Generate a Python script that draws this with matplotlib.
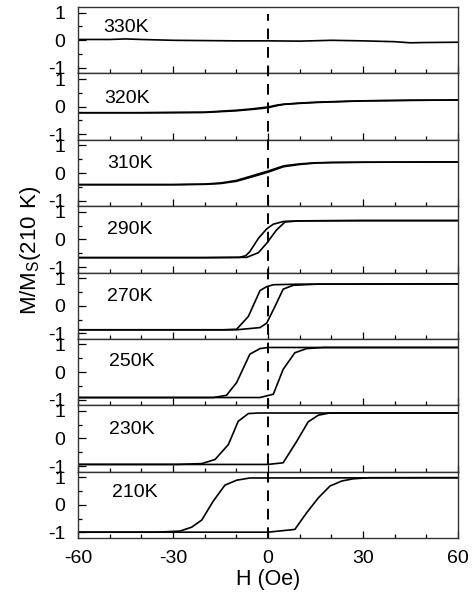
import matplotlib
matplotlib.use("Agg")
import matplotlib.pyplot as plt
from matplotlib.lines import Line2D
from matplotlib.ticker import MultipleLocator

plt.rcParams["font.family"] = ["Liberation Sans", "DejaVu Sans"]
plt.rcParams["axes.unicode_minus"] = False

# --- Données (H en Oe, M/Ms) ---
temps = ["330K", "320K", "310K", "290K", "270K", "250K", "230K", "210K"]

h_330 = [-60, -50, -45, -40, -30, -20, -10, 0, 10, 20, 30, 40, 45, 50, 60]
m_330 = [0.03, 0.03, 0.05, 0.03, 0.0, -0.01, -0.02, -0.02, -0.03, 0.0, -0.02, -0.05, -0.09, -0.08, -0.07]

h_320 = [-60, -40, -20, -10, -5, 0, 3, 5, 10, 15, 20, 30, 45, 60]
m_320_up = [-0.22, -0.22, -0.21, -0.15, -0.10, -0.04, 0.04, 0.08, 0.12, 0.15, 0.17, 0.21, 0.23, 0.24]
m_320_dn = [-0.22, -0.22, -0.20, -0.13, -0.08, -0.01, 0.06, 0.09, 0.13, 0.16, 0.18, 0.21, 0.23, 0.24]

h_310 = [-60, -30, -20, -15, -10, -5, 0, 5, 10, 15, 20, 30, 60]
m_310_up = [-0.42, -0.42, -0.41, -0.38, -0.30, -0.14, 0.03, 0.23, 0.31, 0.36, 0.38, 0.39, 0.40]
m_310_dn = [-0.42, -0.42, -0.40, -0.36, -0.27, -0.10, 0.07, 0.26, 0.33, 0.37, 0.38, 0.39, 0.40]

h_290_dn = [-60, -20, -9, -7, -5.7, -3, -0.4, 1.7, 5, 10, 30, 60]
m_290_dn = [-0.66, -0.66, -0.65, -0.59, -0.44, 0.04, 0.38, 0.55, 0.65, 0.67, 0.68, 0.68]
h_290_up = [-60, -20, -6.7, -3, -0.4, 2.7, 5.4, 10, 30, 60]
m_290_up = [-0.66, -0.66, -0.65, -0.48, -0.14, 0.34, 0.63, 0.67, 0.68, 0.68]

h_270_dn = [-60, -14, -9.9, -6.2, -2.5, -0.4, 1.7, 10, 60]
m_270_dn = [-0.87, -0.87, -0.85, -0.39, 0.55, 0.69, 0.76, 0.78, 0.79]
h_270_up = [-60, -9.9, -2.5, -0.4, 2.2, 4.8, 8, 15.5, 60]
m_270_up = [-0.87, -0.87, -0.79, -0.63, -0.03, 0.60, 0.74, 0.78, 0.79]

h_250_dn = [-60, -17.3, -13.1, -9.9, -5.7, -2.5, 0, 60]
m_250_dn = [-0.92, -0.92, -0.84, -0.38, 0.65, 0.85, 0.89, 0.89]
h_250_up = [-60, -2.5, 1.7, 4.8, 8.5, 12.2, 17.5, 60]
m_250_up = [-0.92, -0.92, -0.80, 0.10, 0.70, 0.85, 0.89, 0.89]

h_230_dn = [-60, -28.8, -20.9, -16.7, -12.5, -9.4, -6.2, -3, 60]
m_230_dn = [-0.94, -0.94, -0.91, -0.76, -0.22, 0.62, 0.90, 0.92, 0.92]
h_230_up = [-60, 0, 4.8, 9.0, 12.7, 15.9, 19.4, 60]
m_230_up = [-0.94, -0.94, -0.88, -0.12, 0.60, 0.84, 0.92, 0.92]

h_210_dn = [-60, -35, -27.8, -24.1, -20.9, -17.3, -13.6, -9.9, -5.7, 60]
m_210_dn = [-0.99, -0.99, -0.95, -0.81, -0.55, 0.13, 0.71, 0.89, 0.97, 0.98]
h_210_up = [-60, 0, 8.5, 12.2, 15.9, 19.6, 23.3, 26.9, 32, 60]
m_210_up = [-0.99, -0.99, -0.89, -0.29, 0.25, 0.68, 0.86, 0.94, 0.98, 0.98]

# branches par panneau (haut -> bas)
branches = [
    [(h_330, m_330)],
    [(h_320, m_320_up), (h_320, m_320_dn)],
    [(h_310, m_310_up), (h_310, m_310_dn)],
    [(h_290_up, m_290_up), (h_290_dn, m_290_dn)],
    [(h_270_up, m_270_up), (h_270_dn, m_270_dn)],
    [(h_250_up, m_250_up), (h_250_dn, m_250_dn)],
    [(h_230_up, m_230_up), (h_230_dn, m_230_dn)],
    [(h_210_up, m_210_up), (h_210_dn, m_210_dn)],
]

# position des étiquettes de température (coord. données)
label_x = [-52, -51.8, -50.8, -50.8, -50.8, -50.2, -50.2, -49.3]
label_y = [0.48, 0.31, 0.36, 0.34, 0.33, 0.38, 0.31, 0.44]

fig, axes = plt.subplots(8, 1, figsize=(4.77, 5.94), dpi=100, sharex=True,
                         gridspec_kw={"hspace": 0})
fig.subplots_adjust(left=0.1635, right=0.960, top=0.988, bottom=0.0943)

for i, ax in enumerate(axes):
    for h, m in branches[i]:
        ax.plot(h, m, color="black", lw=1.2)
    ax.text(label_x[i], label_y[i], temps[i], fontsize=14,
            ha="left", va="center")
    ax.set_xlim(-60, 60)
    ax.set_ylim(-1.2, 1.2)
    ax.yaxis.set_major_locator(MultipleLocator(1))
    ax.yaxis.set_minor_locator(MultipleLocator(0.5))
    ax.xaxis.set_major_locator(MultipleLocator(30))
    ax.tick_params(axis="y", which="both", direction="in", left=True,
                   right=False, labelsize=14, pad=9)
    ax.tick_params(axis="y", which="major", length=5.5, width=0.9)
    ax.tick_params(axis="y", which="minor", length=3, width=0.9)
    ax.tick_params(axis="x", which="both", direction="in", top=False,
                   bottom=True, labelsize=14, pad=9)
    ax.tick_params(axis="x", which="major", length=5, width=0.9)
    ax.tick_params(axis="x", which="minor", length=3, width=0.9)
    for sp in ax.spines.values():
        sp.set_linewidth(1.0)
        sp.set_color("#333333")
    if i < 7:
        ax.tick_params(axis="x", labelbottom=False)

axes[-1].xaxis.set_minor_locator(MultipleLocator(10))
axes[-1].set_xlabel("H (Oe)", fontsize=15.5, labelpad=1)

fig.text(0.063, 1 - 250 / 594, r"$\mathregular{M/M_S(210\ K)}$", fontsize=16,
         rotation=90, ha="center", va="center")

# ligne pointillée verticale H = 0 sur tous les panneaux
x0 = axes[0].transData.transform((0, 0))
x0 = fig.transFigure.inverted().transform(x0)[0]
fig.add_artist(Line2D([x0, x0], [0.0943, 0.976], transform=fig.transFigure,
                      color="black", lw=1.4, ls=(0, (5.5, 4))))

fig.savefig("out.png", dpi=100)
